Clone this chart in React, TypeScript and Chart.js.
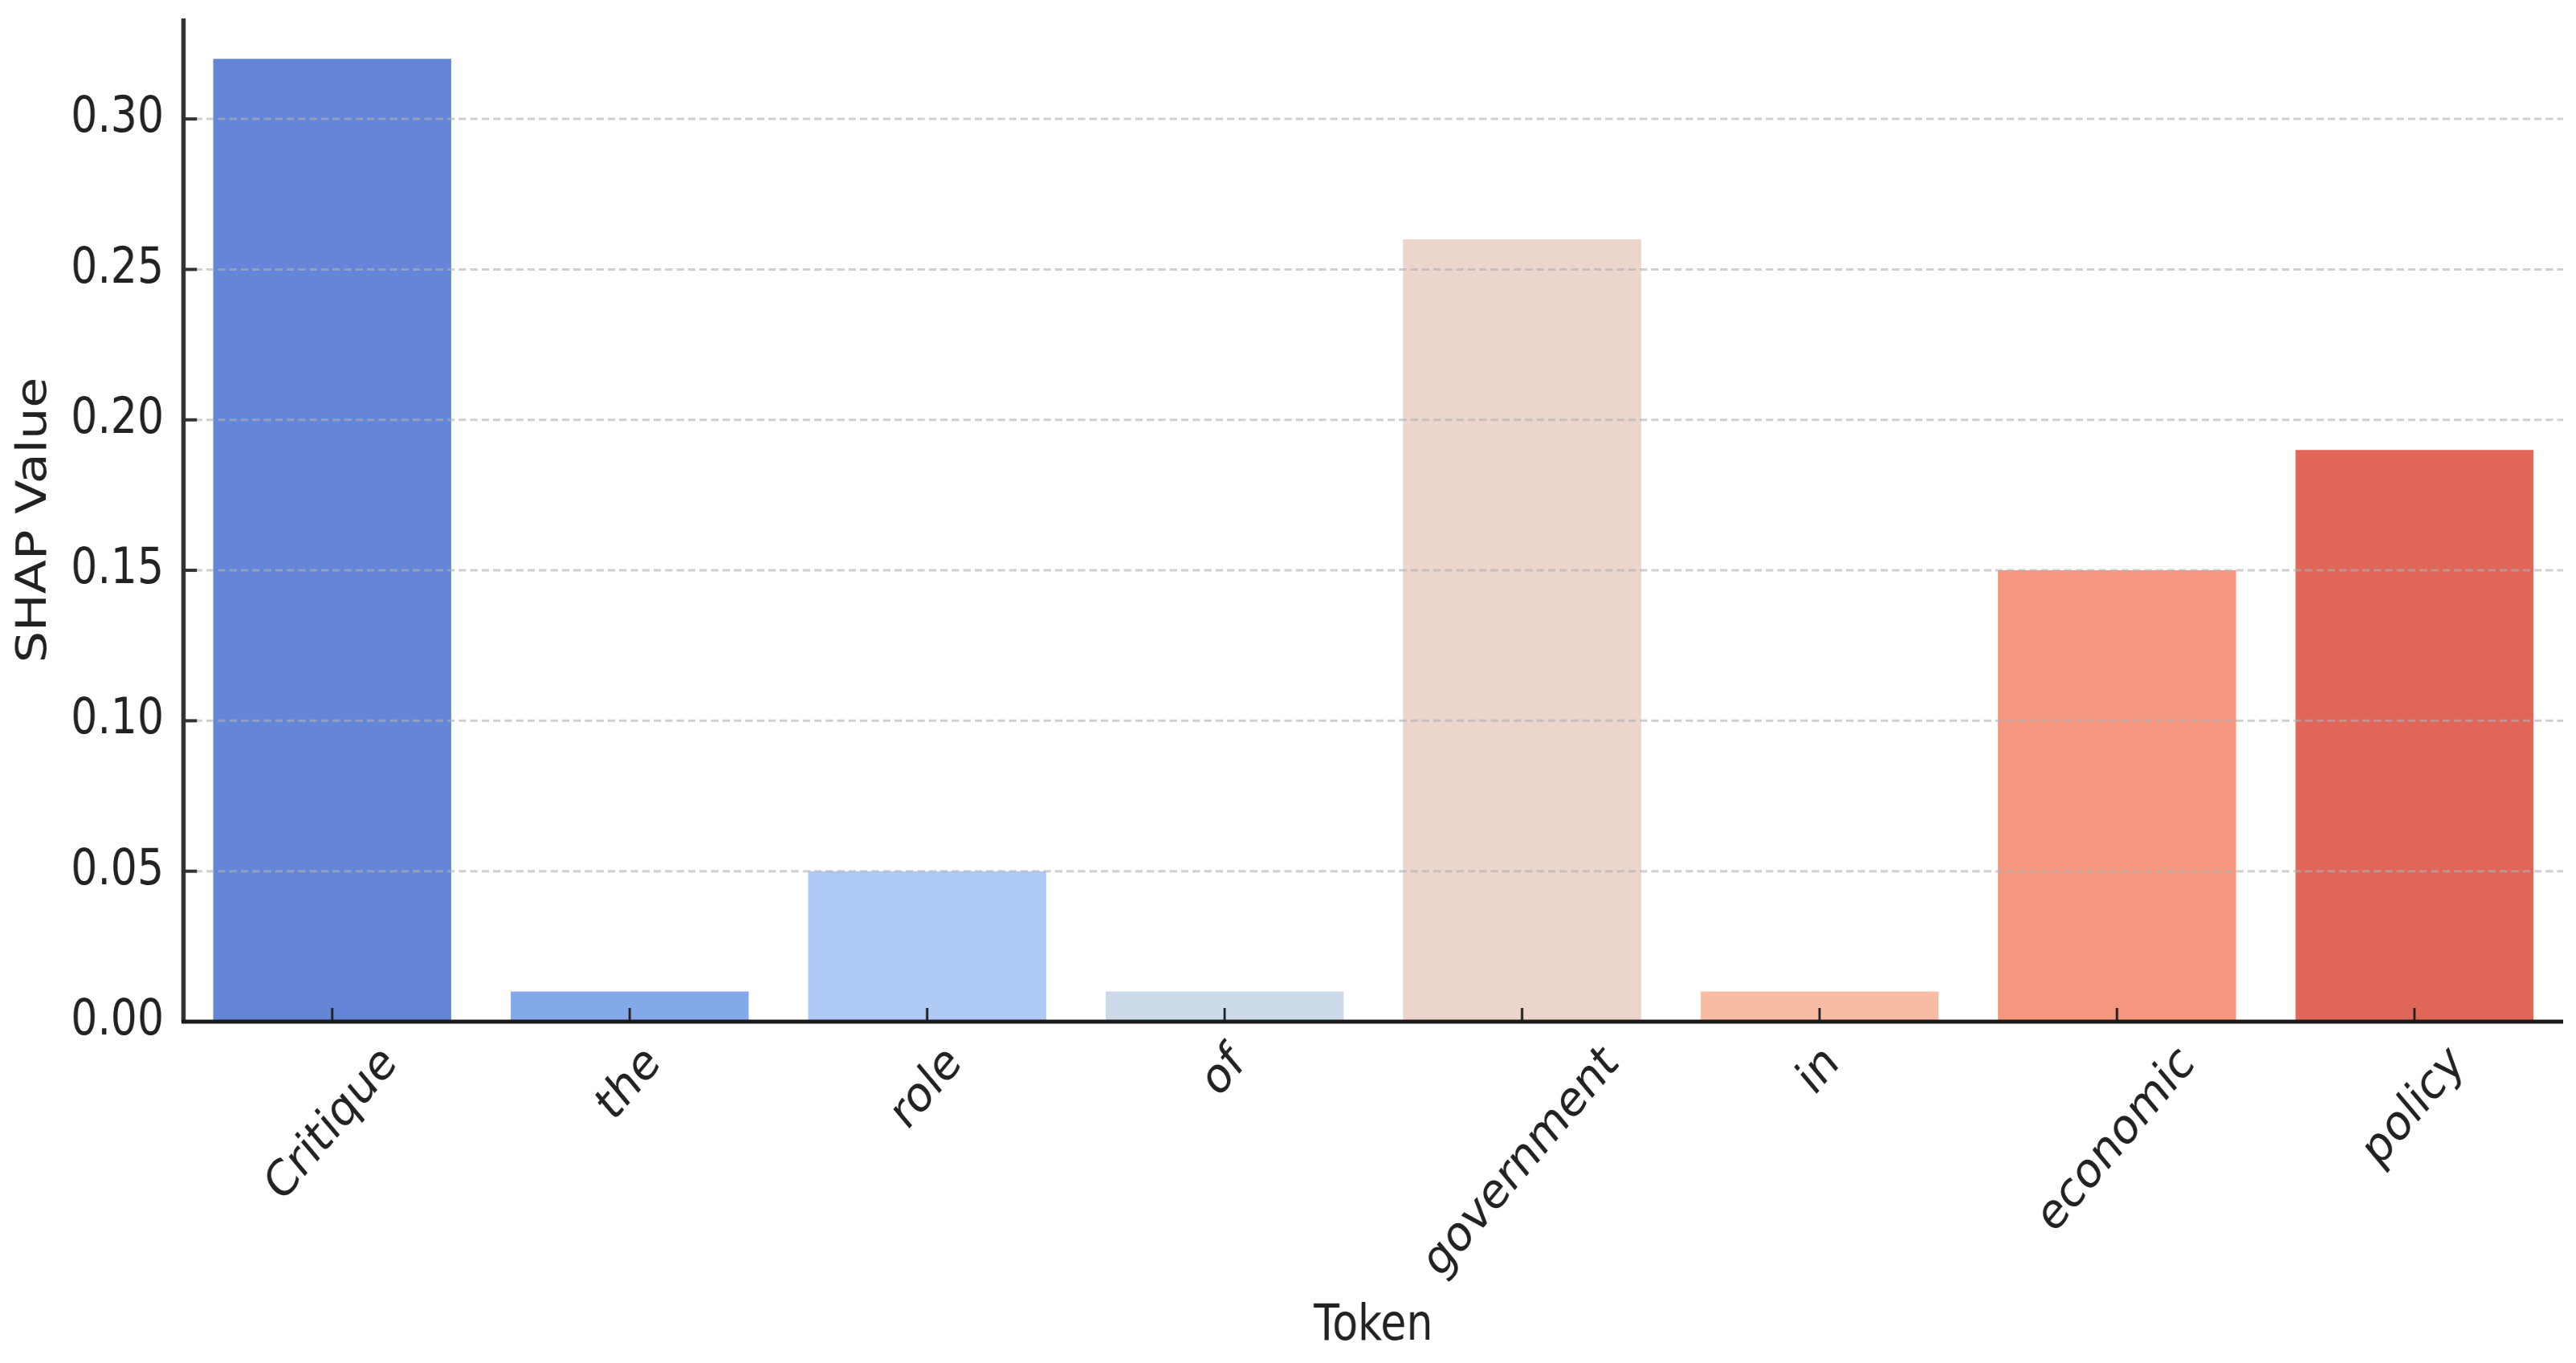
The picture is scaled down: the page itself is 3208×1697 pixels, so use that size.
import React, { useEffect, useRef } from "react";
import { Chart, registerables } from "chart.js";

Chart.register(...registerables);

// ---- data ----
const tokens = ["Critique", "the", "role", "of", "government", "in", "economic", "policy"];
const shapValues = [0.32, 0.01, 0.05, 0.01, 0.26, 0.01, 0.15, 0.19];
const barColors = ["#6485d8", "#83a9eb", "#afcaf4", "#cddaea", "#ecd5cc", "#f8bca4", "#f5977e", "#e0665a"];
const yTicks = [0, 0.05, 0.1, 0.15, 0.2, 0.25, 0.3];
const yMin = 0;
const yMax = 0.3334;
const xTitle = "Token";
const yTitle = "SHAP Value";

// ---- layout ----
const OUT_W = 3208;
const H = 1697;
const K = 0.84; // horizontal compression of the reference picture
const W = Math.round(OUT_W / K);
const SX = OUT_W / W;
const FONT = '"DejaVu Sans", sans-serif';

const overlay = {
  id: "overlay",
  afterDraw(chart: any) {
    const { ctx, chartArea: a, scales } = chart;
    const xs = scales.x;
    const ys = scales.y;
    ctx.save();
    // dashed grid lines on top of bars
    ctx.strokeStyle = "rgba(176,176,176,0.6)";
    ctx.lineWidth = 3;
    ctx.setLineDash([11, 6]);
    for (const v of yTicks) {
      if (v === 0) continue;
      const y = ys.getPixelForValue(v);
      ctx.beginPath();
      ctx.moveTo(a.left, y);
      ctx.lineTo(a.right, y);
      ctx.stroke();
    }
    ctx.setLineDash([]);
    // inward tick marks
    ctx.strokeStyle = "#333";
    ctx.lineWidth = 4;
    for (const v of yTicks) {
      const y = ys.getPixelForValue(v);
      ctx.beginPath();
      ctx.moveTo(a.left, y);
      ctx.lineTo(a.left + 20, y);
      ctx.stroke();
    }
    ctx.strokeStyle = "#222";
    ctx.lineWidth = 3.5;
    tokens.forEach((_, i) => {
      const x = xs.getPixelForValue(i);
      ctx.beginPath();
      ctx.moveTo(x, a.bottom);
      ctx.lineTo(x, a.bottom - 17);
      ctx.stroke();
    });
    // axis lines
    ctx.strokeStyle = "#333";
    ctx.lineWidth = 6.5;
    ctx.beginPath();
    ctx.moveTo(a.left, a.top);
    ctx.lineTo(a.left, a.bottom);
    ctx.stroke();
    ctx.strokeStyle = "#1a1a1a";
    ctx.lineWidth = 5;
    ctx.beginPath();
    ctx.moveTo(a.left - 3, a.bottom);
    ctx.lineTo(a.right, a.bottom);
    ctx.stroke();
    // rotated category labels, centred on ticks (matplotlib style)
    ctx.font = `62px ${FONT}`;
    ctx.fillStyle = "#222";
    ctx.textAlign = "center";
    ctx.textBaseline = "middle";
    tokens.forEach((t, i) => {
      const x = xs.getPixelForValue(i);
      const w = ctx.measureText(t).width;
      const cy = a.bottom + 25 + ((w + 50) * Math.SQRT1_2) / 2;
      ctx.save();
      ctx.translate(x, cy);
      ctx.rotate(-Math.PI / 4);
      ctx.fillText(t, 0, 0);
      ctx.restore();
    });
    ctx.restore();
  },
};

export default function App() {
  const ref = useRef<HTMLCanvasElement>(null);

  useEffect(() => {
    document.body.style.margin = "0";
    const chart = new Chart(ref.current as HTMLCanvasElement, {
      type: "bar",
      data: {
        labels: tokens,
        datasets: [
          {
            data: shapValues,
            backgroundColor: barColors,
            borderWidth: 0,
            barPercentage: 0.8,
            categoryPercentage: 1.0,
          },
        ],
      },
      plugins: [overlay],
      options: {
        responsive: false,
        animation: false,
        devicePixelRatio: 1,
        layout: { padding: { top: 23, right: 19, left: 0, bottom: 0 } },
        plugins: { legend: { display: false }, tooltip: { enabled: false } },
        scales: {
          x: {
            grid: { display: false },
            border: { display: false },
            ticks: { display: false },
            title: {
              display: true,
              text: xTitle,
              color: "#222",
              font: { family: FONT, size: 62, lineHeight: 1.2 },
              padding: { top: 0, bottom: 8 },
            },
            afterFit: (s: any) => {
              s.height = 425;
              s.paddingLeft = 0;
              s.paddingRight = 0;
            },
          },
          y: {
            min: yMin,
            max: yMax,
            grid: { display: false },
            border: { display: false },
            ticks: {
              stepSize: 0.05,
              includeBounds: false,
              color: "#222",
              padding: 21,
              font: { family: FONT, size: 62, lineHeight: 1.2 },
              callback: (v: any) => Number(v).toFixed(2),
            },
            title: {
              display: true,
              text: yTitle,
              color: "#222",
              font: { family: FONT, size: 62, lineHeight: 1.2 },
              padding: { top: 15, bottom: 0 },
            },
            afterFit: (s: any) => {
              s.width = 272;
              s.paddingTop = 0;
              s.paddingBottom = 0;
            },
          },
        },
      },
    } as any);
    return () => chart.destroy();
  }, []);

  return (
    <div
      style={{
        position: "fixed",
        left: 0,
        top: 0,
        width: OUT_W,
        height: H,
        overflow: "hidden",
        background: "#fff",
      }}
    >
      <canvas
        ref={ref}
        width={W}
        height={H}
        style={{ transform: `scaleX(${SX})`, transformOrigin: "0 0" }}
      />
    </div>
  );
}
